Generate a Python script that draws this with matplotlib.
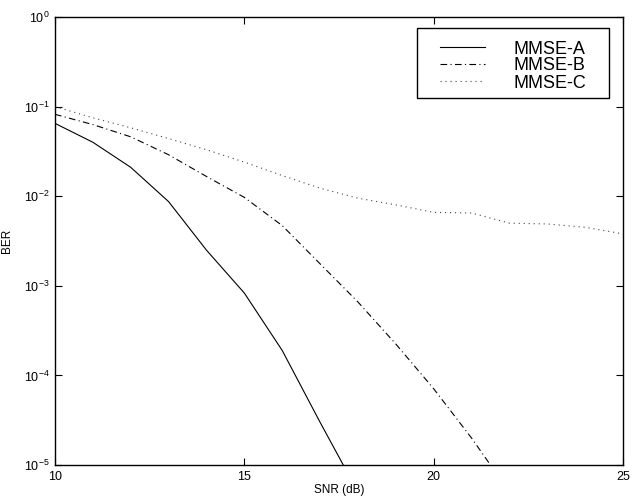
import matplotlib
matplotlib.use("Agg")
import matplotlib.pyplot as plt
import numpy as np
from matplotlib.ticker import FixedLocator, LogFormatterSciNotation, NullLocator
from matplotlib.patches import Rectangle

plt.rcParams['font.family'] = ['Liberation Sans', 'DejaVu Sans']
plt.rcParams['mathtext.fontset'] = 'custom'
plt.rcParams['mathtext.rm'] = 'Liberation Sans'
plt.rcParams['mathtext.it'] = 'Liberation Sans'
plt.rcParams['mathtext.default'] = 'regular'
plt.rcParams['axes.unicode_minus'] = False

snr_a = [10, 11, 12, 13, 14, 15, 16, 17, 18]
ber_a = [0.065, 0.040, 0.021, 0.0087, 0.0025, 8.3e-4, 1.9e-4, 3.0e-5, 5.0e-6]

snr_b = [10, 11, 12, 13, 14, 15, 16, 17, 18, 19, 20, 21, 22]
ber_b = [0.082, 0.063, 0.046, 0.029, 0.0166, 0.0097, 0.0047, 0.00176, 6.6e-4,
         2.24e-4, 7.1e-5, 2.0e-5, 5.0e-6]

snr_c = [10, 11, 12, 13, 14, 15, 16, 17, 18, 19, 20, 21, 22, 23, 24, 25]
ber_c = [0.100, 0.075, 0.058, 0.044, 0.033, 0.024, 0.017, 0.0123, 0.0095,
         0.0080, 0.0066, 0.0065, 0.0050, 0.0049, 0.0045, 0.0038]

labels = ['MMSE-A', 'MMSE-B', 'MMSE-C']
xticks = [10, 15, 20, 25]
yticks = [1e-5, 1e-4, 1e-3, 1e-2, 1e-1, 1e0]

fig = plt.figure(figsize=(6.37, 4.99), dpi=100)
ax = fig.add_axes([55/637, 34/499, 568/637, 448/499])

ax.plot(snr_a, ber_a, color='black', lw=0.8, linestyle='-', label=labels[0])
ax.plot(snr_b, ber_b, color='black', lw=0.8, linestyle=(0, (6, 3, 1, 3)), label=labels[1])
ax.plot(snr_c, ber_c, color='#444444', lw=0.8, linestyle=(0, (1, 3.5)), label=labels[2])

ax.set_yscale('log')
ax.set_xlim(10, 25)
ax.set_ylim(1e-5, 1e0)
ax.xaxis.set_major_locator(FixedLocator(xticks))
ax.yaxis.set_major_locator(FixedLocator(yticks))
ax.yaxis.set_minor_locator(NullLocator())
ax.xaxis.set_minor_locator(NullLocator())
ax.yaxis.set_major_formatter(LogFormatterSciNotation())
ax.tick_params(direction='in', length=5, width=0.8, top=True, right=True,
               labelsize=9, pad=4)
for s in ax.spines.values():
    s.set_linewidth(1.0)

ax.set_xlabel('SNR (dB)', fontsize=8.5, labelpad=1)
ax.set_ylabel('BER', fontsize=8.5, labelpad=8)

# legend box frame
ax.add_patch(Rectangle((362/568, 367/448), 192/568, 70/448, transform=ax.transAxes,
                       facecolor='white', edgecolor='black', lw=1.0, zorder=4))
leg = ax.legend(loc='upper left', bbox_to_anchor=(385/568, 424.5/448), borderaxespad=0,
                fontsize=13, frameon=False, handlelength=2.5, handletextpad=1.55,
                labelspacing=0.0, borderpad=0.0)
leg.set_zorder(5)

fig.savefig('out.png', dpi=100)
